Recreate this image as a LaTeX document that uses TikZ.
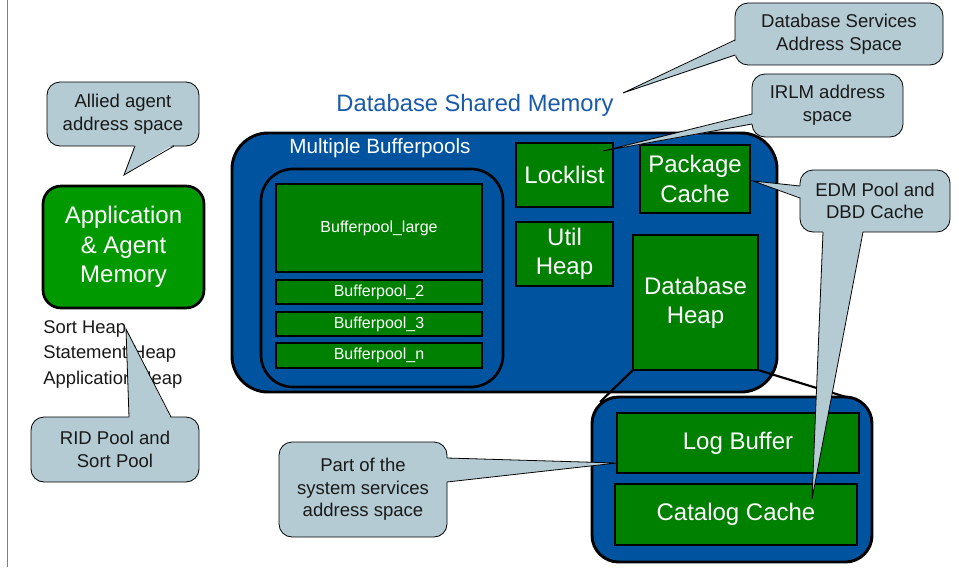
\documentclass[tikz,border=0pt]{standalone}
\usepackage{fontspec}
\setmainfont{Liberation Sans}
\usetikzlibrary{calc}
\definecolor{mainblue}{RGB}{0,84,159}
\definecolor{dkgreen}{RGB}{0,128,0}
\definecolor{appgreen}{RGB}{0,153,0}
\definecolor{callfill}{RGB}{180,203,212}
\definecolor{titleblue}{RGB}{25,90,170}
\newcommand\pxu{0.75pt}
\begin{document}
\begin{tikzpicture}[x=0.75pt,y=-0.75pt,
  sz/.style 2 args={minimum width=#1*\pxu, minimum height=#2*\pxu},
  bluebox/.style={draw=black, line width=2.2pt, fill=mainblue, inner sep=0pt, outer sep=0pt},
  gbox/.style={draw=black, line width=2pt, fill=dkgreen, text=white, inner sep=0pt, outer sep=0pt, align=center, font=\fontsize{18}{22}\selectfont},
  bpbox/.style={gbox, font=\fontsize{12}{14}\selectfont},
  callout/.style={draw=black, line width=0.6pt, fill=callfill, rounded corners=9.75pt, inner sep=0pt, outer sep=0pt, align=center, text=black!90, font=\fontsize{13.9}{17}\selectfont},
  wedgefill/.style={fill=callfill},
  wedgeline/.style={draw=black, line width=0.6pt, line join=miter},
  zoomline/.style={draw=black, line width=1.6pt},
  heaptext/.style={anchor=base west, inner sep=0pt, text=black!90, font=\fontsize{13.8}{16}\selectfont},
]
\useasboundingbox (0,0) rectangle (959,567);
\fill[white] (0,0) rectangle (959,567);
\draw[gray, line width=0.75pt] (7,0) -- (7,567);

% left side
\node[gbox, fill=appgreen, rounded corners=13.5pt, sz={161}{122}] (app) at (123.5,247) {Application\\\& Agent\\Memory};
\node[heaptext] (h1) at (43,333) {Sort Heap};
\node[heaptext] (h2) at (43,358) {Statement Heap};
\node[heaptext] (h3) at (43,384) {Application Heap};

% title
\node[text=titleblue, font=\fontsize{17.8}{20}\selectfont] (title) at (475,105) {Database Shared Memory};

% main shared memory box
\node[bluebox, rounded corners=27pt, sz={545}{259}] (main) at (504.5,262.5) {};
\node[text=white, font=\fontsize{15.5}{18}\selectfont] (mbp) at (380,148) {Multiple Bufferpools};
\node[bluebox, line width=2pt, rounded corners=24pt, sz={242}{218}] (pools) at (382,278) {};
\node[bpbox, sz={206}{88}] (bplarge) at (379,228) {Bufferpool\_large};
\node[bpbox, sz={206}{24}] (bp2) at (379,292) {Bufferpool\_2};
\node[bpbox, sz={206}{24}] (bp3) at (379,324) {Bufferpool\_3};
\node[bpbox, sz={206}{25}] (bpn) at (379,355.5) {Bufferpool\_n};
\node[gbox, sz={97}{64}] (lock) at (564.5,175) {Locklist};
\node[gbox, sz={97}{64}] (util) at (564.5,254) {Util\\Heap};
\node[gbox, sz={110}{68}] (pkg) at (695,179) {Package\\Cache};
\node[gbox, sz={125}{135}] (dbheap) at (695.5,302.5) {Database\\Heap};

% zoom lines to lower box
\coordinate (lowA) at (600,402);
\coordinate (lowB) at (859,401);
\draw[zoomline] (dbheap.south west) -- (lowA);
\draw[zoomline] (dbheap.south east) -- (lowB);

% lower box
\node[bluebox, rounded corners=20pt, sz={280}{165}] (lower) at (732,479.5) {};
\node[gbox, sz={242}{60}] (logbuf) at (738,443) {Log Buffer};
\node[gbox, sz={242}{61}] (catalog) at (736,514.5) {Catalog Cache};

% callouts
\node[callout, sz={152}{64}] (allied) at (123,114) {Allied agent\\address space};
\coordinate (alliedtip) at (124,175);
\fill[wedgefill] ($(allied.south)+(12,-2)$) -- (alliedtip) -- ($(allied.south)+(51,-2)$) -- cycle;
\draw[wedgeline] ($(allied.south)+(12,0)$) -- (alliedtip) -- ($(allied.south)+(51,0)$);

\node[callout, sz={168}{65}] (rid) at (115,449.5) {RID Pool and\\Sort Pool};
\coordinate (ridtip) at (126,329);
\fill[wedgefill] ($(rid.north)+(14,2)$) -- (ridtip) -- ($(rid.north)+(56,2)$) -- cycle;
\draw[wedgeline] ($(rid.north)+(14,0)$) -- (ridtip) -- ($(rid.north)+(56,0)$);

\node[callout, sz={208}{62}] (dbs) at (839,34) {Database Services\\Address Space};
\coordinate (dbstip) at (623,93);
\fill[wedgefill] ($(dbs.west)+(2,6)$) -- (dbstip) -- ($(dbs.west)+(2,21)$) -- cycle;
\draw[wedgeline] ($(dbs.west)+(0,6)$) -- (dbstip) -- ($(dbs.west)+(0,21)$);

\node[callout, sz={151}{63}] (irlm) at (827.5,105.5) {IRLM address\\space};
\coordinate (irlmtip) at (603,151);
\fill[wedgefill] ($(irlm.west)+(2,8.5)$) -- (irlmtip) -- ($(irlm.west)+(2,18.5)$) -- cycle;
\draw[wedgeline] ($(irlm.west)+(0,8.5)$) -- (irlmtip) -- ($(irlm.west)+(0,18.5)$);

\node[callout, sz={150}{62}] (edm) at (875,201) {EDM Pool and\\DBD Cache};
\coordinate (edmtipA) at (753,181);
\coordinate (edmtipB) at (812,499);
\fill[wedgefill] ($(edm.west)+(2,-15)$) -- (edmtipA) -- ($(edm.west)+(2,-3)$) -- cycle;
\draw[wedgeline] ($(edm.west)+(0,-15)$) -- (edmtipA) -- ($(edm.west)+(0,-3)$);
\fill[wedgefill] ($(edm.south)+(-52,-2)$) -- (edmtipB) -- ($(edm.south)+(-12,-2)$) -- cycle;
\draw[wedgeline] ($(edm.south)+(-52,0)$) -- (edmtipB) -- ($(edm.south)+(-12,0)$);

\node[callout, sz={168}{95}] (part) at (363,489.5) {Part of the\\system services\\address space};
\coordinate (parttip) at (617,463);
\fill[wedgefill] ($(part.east)+(-2,-31.5)$) -- (parttip) -- ($(part.east)+(-2,-7.5)$) -- cycle;
\draw[wedgeline] ($(part.east)+(0,-31.5)$) -- (parttip) -- ($(part.east)+(0,-7.5)$);
\end{tikzpicture}
\end{document}
